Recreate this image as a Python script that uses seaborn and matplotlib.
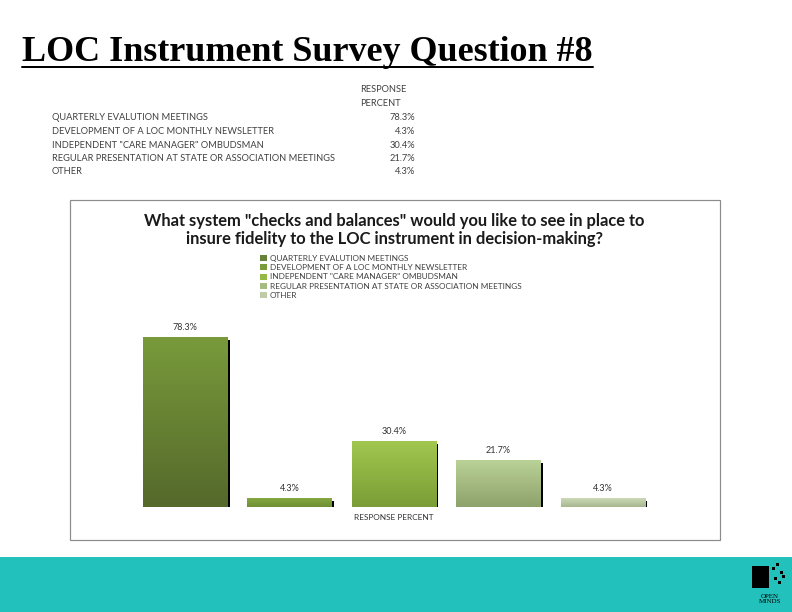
import numpy as np
import matplotlib
matplotlib.use("Agg")
import matplotlib.pyplot as plt
import matplotlib.patheffects as pe
from matplotlib.patches import Rectangle, Patch
from matplotlib.colors import LinearSegmentedColormap
from matplotlib.lines import Line2D
import seaborn as sns

# survey data
categories = [
    "QUARTERLY EVALUTION MEETINGS",
    "DEVELOPMENT OF A LOC MONTHLY NEWSLETTER",
    'INDEPENDENT "CARE MANAGER" OMBUDSMAN',
    "REGULAR PRESENTATION AT STATE OR ASSOCIATION MEETINGS",
    "OTHER",
]
response_percent = [78.3, 4.3, 30.4, 21.7, 4.3]
value_labels = ["78.3%", "4.3%", "30.4%", "21.7%", "4.3%"]

page_title = "LOC Instrument Survey Question #8"
chart_title = ('What system "checks and balances" would you like to see in place to\n'
               "insure fidelity to the LOC instrument in decision-making?")
x_label = "RESPONSE PERCENT"

# bar gradients (top, bottom)
top_colors = ["#789a3b", "#88aa42", "#a2c74e", "#bad297", "#d0ddbb"]
bottom_colors = ["#55692b", "#6f8f34", "#7b9d37", "#8ea26b", "#a8b690"]
mid_colors = ["#67803a", "#7b9b3a", "#93b846", "#a6bb82", "#c0cca8"]

sns.set_theme(style="white")
plt.rcParams["font.family"] = ["Lato", "DejaVu Sans"]

W, H = 792, 612
fig = plt.figure(figsize=(W / 72, H / 72), dpi=72)


def fx(x):
    return x / W


def fy(y):
    return 1 - y / H


# teal footer band
fig.add_artist(Rectangle((0, 0), 1, (H - 557) / H, transform=fig.transFigure,
                         facecolor="#22c1bb", edgecolor="none", zorder=0))

# page title with underline
t = fig.text(fx(22), fy(61), page_title, family="Liberation Serif",
             fontweight="bold", fontsize=36, va="baseline", ha="left", color="black")
fig.canvas.draw()
bb = t.get_window_extent()
fig.add_artist(Line2D([bb.x0 / W, bb.x1 / W], [fy(67), fy(67)],
                      transform=fig.transFigure, color="black", lw=2))

# small table above the chart
tcol = "#404040"
tsize = 9.2
fig.text(fx(360), fy(90), "RESPONSE", fontsize=tsize, color=tcol, va="center")
fig.text(fx(360), fy(103), "PERCENT", fontsize=tsize, color=tcol, va="center")
for i, (cat, lab) in enumerate(zip(categories, value_labels)):
    yy = 118 + i * 13.5
    fig.text(fx(52), fy(yy), cat, fontsize=tsize, color=tcol, va="center", ha="left")
    fig.text(fx(415), fy(yy), lab, fontsize=tsize, color=tcol, va="center", ha="right")

# chart frame
fig.add_artist(Rectangle((fx(70), fy(540)), 650 / W, 340 / H, transform=fig.transFigure,
                         fill=False, edgecolor="#8c8c8c", lw=1.2, zorder=1))

fig.text(fx(394), fy(230), chart_title, ha="center", va="center", fontsize=16.5,
         fontweight="bold", color="#1a1a1a", linespacing=1.15)

# bar chart
ax = fig.add_axes([fx(132.8), fy(507), 522 / W, 184.5 / H])
sns.barplot(x=categories, y=response_percent, hue=categories, palette=mid_colors,
            dodge=False, saturation=1, width=0.805, legend=False, ax=ax)
ax.set_xlim(-0.5, 4.5)
ax.set_ylim(0, 85)

for i, cont in enumerate(ax.containers):
    for p in cont:
        x0, y0 = p.get_xy()
        w, h = p.get_width(), p.get_height()
        p.set_path_effects([pe.SimplePatchShadow(offset=(2.5, -3), shadow_rgbFace="black",
                                                 alpha=1.0), pe.Normal()])
        cmap = LinearSegmentedColormap.from_list("g", [bottom_colors[i], top_colors[i]])
        grad = np.linspace(0, 1, 100).reshape(-1, 1)
        im = ax.imshow(grad, extent=[x0, x0 + w, y0, y0 + h], origin="lower", cmap=cmap,
                       aspect="auto", zorder=p.get_zorder() + 0.1)
        im.set_clip_path(p)
    ax.bar_label(cont, labels=[value_labels[i]], padding=5, fontsize=9, color="#333333")

ax.set_xlim(-0.5, 4.5)
ax.set_ylim(0, 85)
ax.set_xticks([])
ax.set_yticks([])
for s in ax.spines.values():
    s.set_visible(False)
ax.patch.set_alpha(0)
ax.set_xlabel(x_label, fontsize=8.2, color="#333333")
ax.xaxis.set_label_coords(0.5, -0.04)

# legend
handles = [Patch(facecolor=c, edgecolor="none") for c in mid_colors]
leg = fig.legend(handles, categories, loc="upper left", bbox_to_anchor=(fx(260), fy(254.5)),
                 frameon=False, fontsize=8.2, handlelength=0.8, handleheight=0.75,
                 handletextpad=0.4, labelspacing=0.3, borderpad=0, borderaxespad=0)
for txt in leg.get_texts():
    txt.set_color("#404040")

# small logo in the footer
fig.add_artist(Rectangle((fx(752), fy(588)), 17 / W, 22 / H, transform=fig.transFigure,
                         facecolor="black", edgecolor="none"))
for dx, dy in [(772, 570), (776, 566), (780, 574), (774, 580), (778, 584), (782, 578)]:
    fig.add_artist(Rectangle((fx(dx), fy(dy)), 3 / W, 3 / H, transform=fig.transFigure,
                             facecolor="black", edgecolor="none"))
fig.text(fx(770), fy(599), "OPEN\nMINDS", family="Liberation Serif", fontsize=7,
         ha="center", va="center", linespacing=0.9, color="black")

fig.savefig("out.png", dpi=72)
